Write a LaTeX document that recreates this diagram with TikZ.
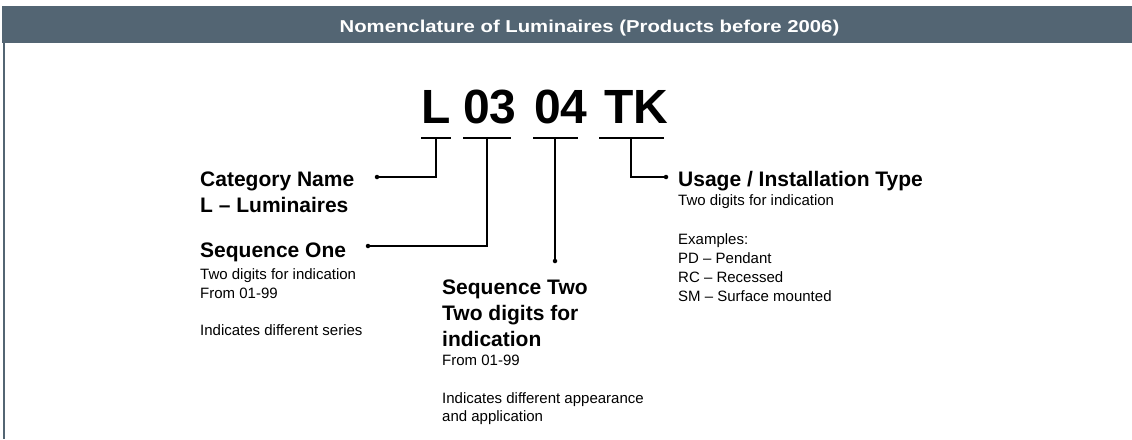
\documentclass[tikz,border=0pt]{standalone}
\usepackage{fontspec}
\setmainfont{Liberation Sans}
\newfontfamily\titlefont{Liberation Sans}[FakeStretch=1.18]
\definecolor{hdr}{RGB}{83,101,115}
\begin{document}
\begin{tikzpicture}[x=1pt,y=-1pt,
 lbl/.style={inner sep=0pt, anchor=base west, font=\fontsize{21}{26}\selectfont\bfseries},
 txt/.style={inner sep=0pt, anchor=base west, font=\fontsize{15}{18.5}\selectfont},
 code/.style={inner sep=0pt, anchor=base, font=\fontsize{48}{50}\selectfont\bfseries},
 uline/.style={line width=1.1pt},
 conn/.style={line width=1.1pt},
 dot/.style={circle, fill=black, inner sep=0pt, minimum size=4.5pt}]
\useasboundingbox (0,0) rectangle (1132,439);
% header
\fill[hdr] (2,6) rectangle (1132,43);
\draw[hdr, line width=1.5pt] (4,43) -- (4,439);
\node[inner sep=0pt, anchor=base, font=\titlefont\fontsize{17.2}{18}\selectfont\bfseries, text=white] (title) at (589.5,32.3) {Nomenclature of Luminaires (Products before 2006)};
% code
\node[code] (cL) at (436,123) {L};
\node[code] (c03) at (490,123) {03};
\node[code] (c04) at (561,123) {04};
\node[code] (cTK) at (636,123) {TK};
% underlines
\draw[uline] (421,138) -- (451,138);
\draw[uline] (463,138) -- (511,138);
\draw[uline] (533,138) -- (578,138);
\draw[uline] (599,138) -- (664,138);
\coordinate (uL) at (436,138);
\coordinate (u03) at (487,138);
\coordinate (u04) at (555,138);
\coordinate (uTK) at (631,138);
% dots
\node[dot] (dCat) at (377,177) {};
\node[dot] (dS1) at (368,246) {};
\node[dot] (dS2) at (555,261) {};
\node[dot] (dUse) at (666,177) {};
% connectors
\draw[conn] (uL) |- (dCat.center);
\draw[conn] (u03) |- (dS1.center);
\draw[conn] (u04) -- (dS2.center);
\draw[conn] (uTK) |- (dUse.center);
% Category
\node[lbl] (cat1) at (200,186) {Category Name};
\node[lbl] (cat2) at (200,212) {L – Luminaires};
% Sequence One
\node[lbl] (s1h) at (200,257.5) {Sequence One};
\node[txt] (s1a) at (200,279.5) {Two digits for indication};
\node[txt] (s1b) at (200,298) {From 01-99};
\node[txt] (s1c) at (200,335) {Indicates different series};
% Sequence Two
\node[lbl] (s2h) at (442,294) {Sequence Two};
\node[lbl] (s2h2) at (442,320) {Two digits for};
\node[lbl] (s2h3) at (442,346) {indication};
\node[txt] (s2a) at (442,365.5) {From 01-99};
\node[txt] (s2b) at (442,403) {Indicates different appearance};
\node[txt] (s2c) at (442,421.5) {and application};
% Usage
\node[lbl] (uh) at (678,186.5) {Usage / Installation Type};
\node[txt] (ua) at (678,205.5) {Two digits for indication};
\node[txt] (ub) at (678,244) {Examples:};
\node[txt] (uc) at (678,263) {PD – Pendant};
\node[txt] (ud) at (678,282) {RC – Recessed};
\node[txt] (ue) at (678,301) {SM – Surface mounted};
\end{tikzpicture}
\end{document}
